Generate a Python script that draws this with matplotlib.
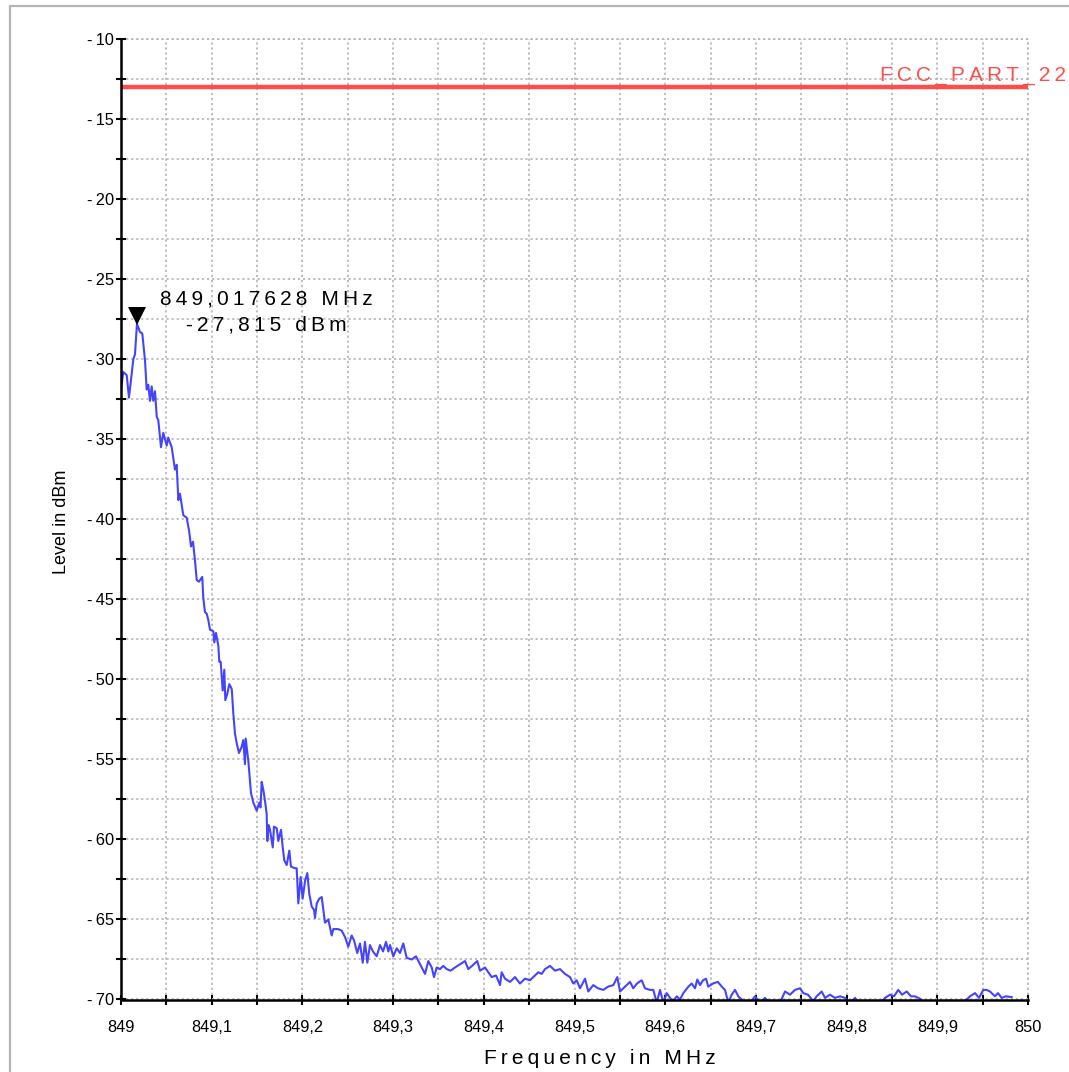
import matplotlib
matplotlib.use("Agg")
import matplotlib.pyplot as plt
import matplotlib.transforms as mtransforms
from matplotlib.ticker import MultipleLocator, FuncFormatter
from matplotlib.patches import Rectangle

plt.rcParams['font.family'] = ['Liberation Sans', 'DejaVu Sans']

# ---------------- data ----------------
freq_mhz = [
    849.0000, 849.0025, 849.0063, 849.0088, 849.0136, 849.0154, 849.0176, 849.0209,
    849.0235, 849.0265, 849.0283, 849.0301, 849.0320, 849.0338, 849.0356, 849.0375,
    849.0394, 849.0411, 849.0441, 849.0466, 849.0485, 849.0504, 849.0521, 849.0559,
    849.0595, 849.0614, 849.0632, 849.0650, 849.0687, 849.0724, 849.0750, 849.0772,
    849.0794, 849.0816, 849.0835, 849.0860, 849.0896, 849.0907, 849.0926, 849.0945,
    849.0963, 849.0981, 849.1018, 849.1029, 849.1047, 849.1073, 849.1084, 849.1099,
    849.1121, 849.1139, 849.1150, 849.1172, 849.1194, 849.1221, 849.1238, 849.1257,
    849.1276, 849.1301, 849.1331, 849.1348, 849.1367, 849.1375, 849.1404, 849.1433,
    849.1459, 849.1496, 849.1525, 849.1538, 849.1551, 849.1569, 849.1588, 849.1606,
    849.1613, 849.1628, 849.1643, 849.1673, 849.1687, 849.1717, 849.1734, 849.1764,
    849.1783, 849.1800, 849.1827, 849.1856, 849.1874, 849.1918, 849.1937, 849.1955,
    849.1981, 849.2003, 849.2029, 849.2054, 849.2076, 849.2103, 849.2128, 849.2139,
    849.2158, 849.2186, 849.2213, 849.2249, 849.2286, 849.2323, 849.2341, 849.2393,
    849.2433, 849.2470, 849.2506, 849.2543, 849.2569, 849.2605, 849.2635, 849.2665,
    849.2690, 849.2716, 849.2745, 849.2778, 849.2819, 849.2856, 849.2889, 849.2922,
    849.2947, 849.2966, 849.3002, 849.3040, 849.3076, 849.3112, 849.3150, 849.3205,
    849.3252, 849.3297, 849.3352, 849.3388, 849.3426, 849.3451, 849.3481, 849.3517,
    849.3554, 849.3591, 849.3635, 849.3682, 849.3738, 849.3793, 849.3829, 849.3870,
    849.3928, 849.3958, 849.4013, 849.4087, 849.4135, 849.4179, 849.4197, 849.4234,
    849.4289, 849.4344, 849.4399, 849.4454, 849.4509, 849.4564, 849.4601, 849.4638,
    849.4675, 849.4730, 849.4785, 849.4840, 849.4895, 849.4950, 849.4987, 849.5024,
    849.5061, 849.5116, 849.5152, 849.5207, 849.5259, 849.5318, 849.5369, 849.5428,
    849.5472, 849.5502, 849.5557, 849.5612, 849.5648, 849.5689, 849.5741, 849.5777,
    849.5832, 849.5869, 849.5906, 849.5943, 849.5979, 849.6017, 849.6053, 849.6089,
    849.6127, 849.6163, 849.6200, 849.6255, 849.6292, 849.6329, 849.6354, 849.6384,
    849.6417, 849.6450, 849.6475, 849.6527, 849.6580, 849.6625, 849.6659, 849.6696,
    849.6733, 849.6770, 849.6806, 849.6861, 849.6935, 849.6990, 849.7045, 849.7100,
    849.7155, 849.7266, 849.7321, 849.7376, 849.7431, 849.7486, 849.7523, 849.7574,
    849.7633, 849.7670, 849.7725, 849.7762, 849.7817, 849.7872, 849.7927, 849.7982,
    849.8037, 849.8093, 849.8148, 849.8258, 849.8368, 849.8423, 849.8478, 849.8523,
    849.8570, 849.8611, 849.8663, 849.8710, 849.8754, 849.8809, 849.8864, 849.8975,
    849.9085, 849.9195, 849.9305, 849.9361, 849.9416, 849.9460, 849.9507, 849.9545,
    849.9581, 849.9636, 849.9669, 849.9710, 849.9757, 849.9820,
]
level_dbm = [
    -31.9, -30.8, -31.0, -32.4, -30.0, -29.7, -27.8, -28.3,
    -28.4, -30.1, -31.9, -31.6, -32.6, -31.7, -32.6, -32.0,
    -33.6, -33.8, -35.5, -34.6, -35.0, -35.4, -34.9, -35.5,
    -36.9, -36.6, -38.8, -38.4, -39.75, -39.9, -40.7, -41.7,
    -41.4, -42.6, -43.8, -43.9, -43.6, -44.9, -45.8, -45.9,
    -46.3, -46.9, -47.0, -47.7, -47.1, -47.9, -48.9, -48.9,
    -50.7, -49.4, -51.3, -50.9, -50.3, -50.6, -52.1, -53.4,
    -54.0, -54.6, -54.2, -53.8, -55.3, -53.7, -55.1, -57.1,
    -57.7, -58.2, -57.7, -58.0, -56.4, -56.9, -57.6, -58.4,
    -60.1, -59.1, -59.4, -60.5, -59.2, -59.3, -60.1, -59.4,
    -60.5, -61.3, -61.6, -60.7, -61.7, -61.8, -61.8, -64.0,
    -62.35, -63.7, -62.6, -62.1, -63.4, -64.2, -64.4, -64.9,
    -64.0, -63.7, -63.6, -65.2, -65.0, -66.0, -65.6, -65.6,
    -65.7, -66.1, -66.7, -66.0, -66.3, -67.1, -66.5, -67.7,
    -66.4, -67.7, -66.6, -67.0, -67.3, -66.6, -67.0, -66.4,
    -67.0, -66.6, -67.3, -66.8, -67.1, -66.5, -67.4, -67.5,
    -67.3, -67.8, -68.4, -67.6, -68.0, -68.6, -68.0, -68.1,
    -67.9, -68.1, -68.2, -68.0, -67.8, -67.6, -68.1, -67.9,
    -67.6, -68.2, -68.0, -68.6, -68.5, -69.1, -68.3, -68.7,
    -68.9, -68.6, -69.0, -68.7, -68.8, -68.5, -68.3, -68.4,
    -68.1, -67.9, -68.2, -68.1, -68.4, -68.6, -69.0, -68.8,
    -69.3, -68.7, -69.5, -69.1, -69.3, -69.4, -69.2, -69.1,
    -68.6, -69.5, -69.2, -68.9, -69.3, -69.0, -68.8, -69.3,
    -69.4, -69.4, -70.2, -69.4, -70.2, -69.6, -69.9, -70.1,
    -69.8, -70.0, -69.6, -69.2, -69.0, -69.3, -68.75, -69.1,
    -68.8, -68.7, -69.2, -69.0, -68.9, -69.2, -69.4, -70.2,
    -69.7, -69.4, -69.8, -70.1, -70.2, -69.8, -70.2, -69.9,
    -70.2, -70.2, -69.5, -69.7, -69.4, -69.3, -69.6, -69.7,
    -70.1, -69.8, -69.5, -69.9, -69.7, -69.9, -69.8, -69.9,
    -70.2, -69.9, -70.3, -70.3, -70.3, -69.9, -69.7, -69.8,
    -69.4, -69.7, -69.5, -69.8, -69.8, -69.95, -70.3, -70.3,
    -70.3, -70.3, -70.1, -69.8, -69.6, -69.9, -69.4, -69.4,
    -69.5, -69.8, -69.6, -69.9, -69.8, -69.85,
]
limit_name = "FCC_PART_22"
limit_dbm = -13.0
marker_freq = 849.017628
marker_level = -27.815
marker_lines = ["849,017628 MHz", "-27,815 dBm"]
x_label = "Frequency in MHz"
y_label = "Level in dBm"
x_range = (849.0, 850.0)
y_range = (-70.0, -10.0)

# ---------------- figure ----------------
W, H = 1069, 1072
fig = plt.figure(figsize=(W / 100, H / 100), dpi=100)
fig.patch.set_facecolor("white")

# outer gray frame (left & top visible)
fig.patches.append(Rectangle((10 / W, -0.05), 1.2, 1.05 - 6 / H, transform=fig.transFigure,
                             fill=False, edgecolor="#b4b4b4", linewidth=1.6, zorder=0))

ax = fig.add_axes([121 / W, 1 - 999.5 / H, (1028 - 121) / W, (999.5 - 39) / H])
ax.set_xlim(*x_range)
ax.set_ylim(*y_range)

for s in ["top", "right"]:
    ax.spines[s].set_visible(False)
for s in ["left", "bottom"]:
    ax.spines[s].set_linewidth(1.8)
    ax.spines[s].set_color("black")
    ax.spines[s].set_zorder(5)

ax.xaxis.set_major_locator(MultipleLocator(0.1))
ax.xaxis.set_minor_locator(MultipleLocator(0.05))
ax.yaxis.set_major_locator(MultipleLocator(5))
ax.yaxis.set_minor_locator(MultipleLocator(2.5))

def fmt_x(v, pos):
    s = ("%.1f" % v).rstrip("0").rstrip(".")
    return s.replace(".", ",")

def fmt_y(v, pos):
    n = int(round(v))
    return ("-\u2009%d" % abs(n)) if n < 0 else "%d" % n

ax.xaxis.set_major_formatter(FuncFormatter(fmt_x))
ax.yaxis.set_major_formatter(FuncFormatter(fmt_y))

ax.tick_params(axis="both", which="both", direction="inout", length=7, width=1.5, color="black")
ax.tick_params(axis="x", which="major", pad=11, labelsize=11.8)
ax.tick_params(axis="y", which="major", pad=1.5, labelsize=11.8)

grid_style = dict(color="#b8b8b8", linestyle=(0, (1.2, 1.6)), linewidth=1.3)
ax.grid(True, which="both", **grid_style)
ax.set_axisbelow(True)
ax.axvline(x_range[1], clip_on=False, zorder=0.5, **grid_style)
ax.axhline(y_range[1], clip_on=False, zorder=0.5, **grid_style)

# trace
ax.plot(freq_mhz, level_dbm, color="#4444ff", linewidth=1.5, zorder=3)

# limit line
ax.axhline(limit_dbm, color="#ff4d4d", linewidth=3.2, zorder=4)

def spaced(s):
    return "\u2009".join(s)

ax.text(849.8365, limit_dbm + 0.15, spaced(limit_name), color="#ff4d4d", fontsize=15,
        ha="left", va="bottom", clip_on=False, zorder=6)

# peak marker
off = mtransforms.offset_copy(ax.transData, fig=fig, x=0, y=8, units="dots")
ax.plot([marker_freq], [marker_level], marker="v", color="black", markersize=13,
        markeredgewidth=0, transform=off, zorder=6, clip_on=False)
ax.text(849.1602, -26.56, spaced(marker_lines[0]), ha="center", va="baseline",
        fontsize=15, color="black", zorder=6)
ax.text(849.1602, -28.19, spaced(marker_lines[1]), ha="center", va="baseline",
        fontsize=15, color="black", zorder=6)

# axis labels
fig.text(600 / W, 1 - 1058 / H, spaced(x_label), ha="center", va="center", fontsize=15)
fig.text(62 / W, 1 - 522 / H, y_label, ha="center", va="center", rotation=90, fontsize=13)

fig.savefig("out.png", dpi=100)
